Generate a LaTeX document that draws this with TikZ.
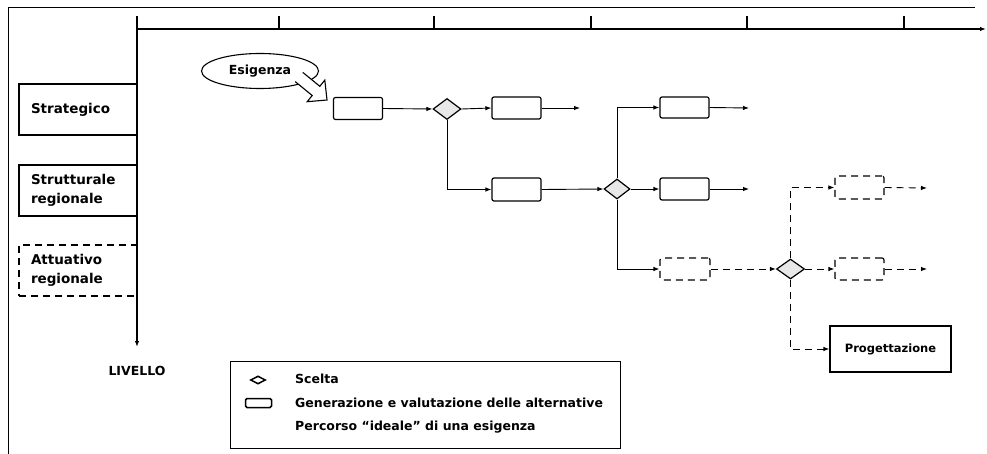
\documentclass[tikz,border=0pt]{standalone}
\usepackage{fontspec}
\setmainfont{DejaVu Sans}
\usetikzlibrary{arrows.meta,shapes.geometric}
\begin{document}
\begin{tikzpicture}[x=1pt,y=-1pt,
  every node/.style={font=\bfseries\fontsize{12.5}{15}\selectfont},
  alt/.style={draw,rounded corners=2pt,line width=1.2pt,minimum width=49pt,minimum height=22pt,inner sep=0pt},
  daltbox/.style={alt,dash pattern=on 7pt off 5pt},
  choice/.style={draw,diamond,fill=gray!18,line width=1.2pt,minimum width=28pt,minimum height=21pt,inner sep=0pt},
  conn/.style={line width=0.9pt,-{Latex[length=6pt,width=4.5pt]}},
  dconn/.style={conn,dash pattern=on 7pt off 5pt},
  lvl/.style={draw,line width=1.2pt,minimum width=118pt,minimum height=51pt,text width=94pt,align=left,inner xsep=12pt,inner ysep=0pt,font=\bfseries\fontsize{13.5}{19}\selectfont},
  lbl/.style={anchor=west,inner sep=0pt}]
\useasboundingbox (0,0) rectangle (987,454);
% frame
\draw[line width=0.9pt] (8,454) -- (8,7) -- (975,7);
% level boxes
\node[lvl] (strat) at (78,109.5) {Strategico};
\node[lvl] (strutt) at (78,190.5) {Strutturale\\regionale};
\node[lvl,dash pattern=on 7pt off 5pt] (attu) at (78,270.5) {Attuativo\\regionale};
% axes
\coordinate (vtop) at (137,16);
\coordinate (vend) at (137,347);
\coordinate (horig) at (137,29);
\coordinate (hend) at (986,29);
\draw[line width=1.3pt,-{Latex[length=6pt,width=4.5pt]}] (vtop) -- (vend);
\draw[line width=1.3pt,-{Latex[length=6pt,width=4.5pt]}] (horig) -- (hend);
\foreach \t/\xx in {t1/279,t2/434,t3/591,t4/747,t5/904}{
  \coordinate (\t a) at (\xx,16);
  \coordinate (\t b) at (\xx,29);
  \draw[line width=1.2pt] (\t a) -- (\t b);
}
\node[inner sep=0pt] (livello) at (137,371) {LIVELLO};
% esigenza
\node[draw,ellipse,line width=1.1pt,minimum width=117pt,minimum height=35pt,inner sep=0pt] (esig) at (260,71) {Esigenza};
\draw[line width=1.1pt,fill=white] (302.8,72.4) -- (319.8,86.3) -- (324.8,80.1) -- (327,100) -- (307.2,101.7) -- (312.2,95.5) -- (295.2,81.6);
% flow nodes
\node[alt] (b1) at (358,108.5) {};
\node[choice] (d1) at (447,109) {};
\node[alt] (b2) at (516.5,108) {};
\node[alt,minimum height=23pt] (b3) at (516.5,189.5) {};
\node[choice,minimum width=26pt,minimum height=20pt] (d2) at (617,189) {};
\node[alt] (b4) at (684.5,189) {};
\node[alt,minimum height=21pt] (b5) at (684.5,107.5) {};
\node[daltbox,minimum width=50pt] (b6) at (685,269) {};
\node[choice,minimum height=20pt] (d3) at (790.5,269) {};
\node[daltbox] (b7) at (859.5,269) {};
\node[daltbox,minimum height=23pt] (b8) at (859.5,187.5) {};
\node[draw,line width=1.2pt,minimum width=121pt,minimum height=46pt,font=\bfseries\fontsize{11.5}{14}\selectfont] (prog) at (890.5,349) {Progettazione};
\coordinate (e2) at (580,108);
\coordinate (e4) at (749,189);
\coordinate (e5) at (749,108);
\coordinate (e7) at (927,269);
\coordinate (e8) at (927,188);
% connectors
\draw[conn] (b1.east) -- (d1.west);
\draw[conn] (d1.east) -- (b2.west);
\draw[conn] (b2.east) -- (e2);
\draw[conn] (d1.south) |- (b3.west);
\draw[conn] (b3.east) -- (d2.west);
\draw[conn] (d2.east) -- (b4.west);
\draw[conn] (b4.east) -- (e4);
\draw[conn] (d2.north) |- (b5.west);
\draw[conn] (b5.east) -- (e5);
\draw[conn] (d2.south) |- (b6.west);
\draw[dconn] (b6.east) -- (d3.west);
\draw[dconn] (d3.east) -- (b7.west);
\draw[dconn] (b7.east) -- (e7);
\draw[dconn] (d3.north) |- (b8.west);
\draw[dconn] (b8.east) -- (e8);
\draw[dconn] (d3.south) |- (prog.west);
% legend
\node[draw,line width=0.9pt,minimum width=390pt,minimum height=87pt,inner sep=0pt] (legend) at (425,404.5) {};
\node[draw,diamond,line width=1.5pt,minimum width=15pt,minimum height=8pt,inner sep=0pt] (ld) at (258,380) {};
\node[draw,rounded corners=1.5pt,line width=1.5pt,minimum width=26pt,minimum height=9pt,inner sep=0pt] (lr) at (258.5,403) {};
\node[lbl] (l1) at (295,379) {Scelta};
\node[lbl] (l2) at (295,403) {Generazione e valutazione delle alternative};
\node[lbl] (l3) at (295,427) {Percorso “ideale” di una esigenza};
\end{tikzpicture}
\end{document}
